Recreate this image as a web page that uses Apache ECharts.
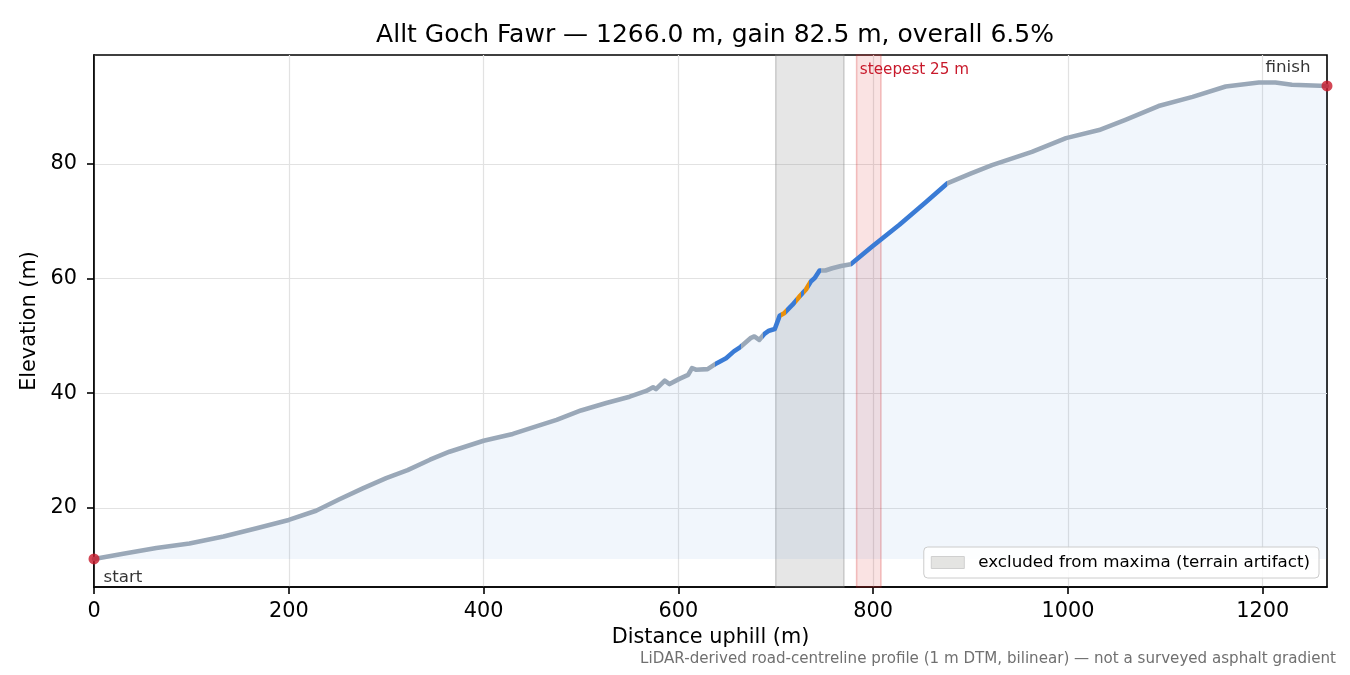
<!DOCTYPE html>
<html>
<head>
<meta charset="utf-8">
<script src="https://cdn.jsdelivr.net/npm/echarts@6/dist/echarts.min.js"></script>
<style>html,body{margin:0;padding:0;background:#fff;}#c{width:1350px;height:675px;}</style>
</head>
<body>
<div id="c"></div>
<script>
// ---- data ----
const distance = [0, 30, 64, 98, 133, 167, 200, 228, 252, 276, 300, 322, 345, 365, 400, 430, 450, 475, 500, 526, 550, 567, 574, 577, 586, 591, 601, 610, 614, 618, 630, 639, 649, 657, 664, 674, 678, 683, 688, 693, 699, 704, 709, 717, 724, 731, 736, 740, 745, 751, 758, 767, 777, 799, 827, 854, 876, 900, 922, 963, 998, 1032, 1059, 1093, 1128, 1162, 1196, 1213, 1230, 1266];
const elevation = [11.1, 12.0, 13.0, 13.8, 15.0, 16.45, 17.9, 19.5, 21.5, 23.4, 25.2, 26.6, 28.4, 29.8, 31.7, 32.9, 34.0, 35.35, 37.0, 38.3, 39.4, 40.4, 41.05, 40.7, 42.2, 41.6, 42.5, 43.2, 44.4, 44.1, 44.2, 45.2, 46.1, 47.3, 48.1, 49.6, 49.9, 49.3, 50.3, 50.9, 51.2, 53.5, 54.0, 55.4, 56.8, 58.1, 59.5, 60.1, 61.4, 61.4, 61.8, 62.2, 62.5, 65.6, 69.4, 73.3, 76.6, 78.3, 79.8, 82.1, 84.5, 85.9, 87.7, 90.1, 91.7, 93.5, 94.2, 94.2, 93.8, 93.6];
const xTicks = [0, 200, 400, 600, 800, 1000, 1200];
const yTicks = [20, 40, 60, 80];
const excludedBand = [700, 770];
const steepestBand = [783, 808];
const steepRanges = [[638, 664], [687, 746], [777, 876]];      // blue
const steepestRanges = [[705, 711], [721, 726], [729, 734]];   // orange
const titleText = 'Allt Goch Fawr \u2014 1266.0 m, gain 82.5 m, overall 6.5%';
const legendName = 'excluded from maxima (terrain artifact)';
const footnote = 'LiDAR-derived road-centreline profile (1 m DTM, bilinear) \u2014 not a surveyed asphalt gradient';

// ---- styles ----
const FONT = 'DejaVu Sans';
const GREY = '#9aa8b8', BLUE = '#3a7bd5', ORANGE = '#e8900c', RED = '#c8192b';

const profile = distance.map((d, i) => [d, elevation[i]]);
const baseElev = Math.min(...elevation);
const n = distance.length - 1;

const pieces = [];
steepRanges.forEach(r => {
  let cur = r[0];
  steepestRanges.filter(o => o[0] >= r[0] && o[1] <= r[1]).forEach(o => {
    if (o[0] > cur) pieces.push({gte: cur, lt: o[0], color: BLUE});
    pieces.push({gte: o[0], lt: o[1], color: ORANGE});
    cur = o[1];
  });
  if (cur < r[1]) pieces.push({gte: cur, lt: r[1], color: BLUE});
});

const chart = echarts.init(document.getElementById('c'), null, {renderer: 'canvas'});
chart.setOption({
  animation: false,
  backgroundColor: '#fff',
  textStyle: {fontFamily: FONT},
  title: {
    text: titleText, left: 710, top: 18, textAlign: 'center',
    textStyle: {fontFamily: FONT, fontSize: 25, fontWeight: 'normal', color: '#000'}
  },
  grid: {left: 94, right: 23, top: 55, bottom: 88, show: true, borderColor: '#000', borderWidth: 1.6, backgroundColor: 'rgba(0,0,0,0)'},
  legend: {
    data: [{name: legendName, icon: 'rect', itemStyle: {color: '#e4e4e2', borderColor: '#cfcfcf', borderWidth: 1}}],
    right: 31, bottom: 97, itemWidth: 33, itemHeight: 12,
    padding: [7, 9, 7, 7], backgroundColor: 'rgba(255,255,255,0.85)', borderColor: '#cccccc', borderWidth: 1, borderRadius: 4,
    textStyle: {fontFamily: FONT, fontSize: 16.7, color: '#000', padding: [0, 0, 0, 9]},
    selectedMode: false
  },
  visualMap: {
    type: 'piecewise', show: false, dimension: 0, seriesIndex: 1,
    pieces: pieces, outOfRange: {color: GREY}
  },
  xAxis: {
    type: 'value', min: 0, max: 1266, interval: 200,
    name: 'Distance uphill (m)', nameLocation: 'middle', nameGap: 38,
    nameTextStyle: {fontFamily: FONT, fontSize: 20.8, color: '#000'},
    axisLine: {show: true, lineStyle: {color: '#000', width: 1.6}},
    axisTick: {show: true, inside: false, length: 7, lineStyle: {color: '#000', width: 1.6}, customValues: xTicks},
    axisLabel: {customValues: xTicks, formatter: v => String(v), margin: 14, fontFamily: FONT, fontSize: 20.8, color: '#000'},
    splitLine: {show: true, lineStyle: {color: '#e2e2e2', width: 1.2}}
  },
  yAxis: {
    type: 'value', min: 6.2, max: 99.0,
    name: 'Elevation (m)', nameLocation: 'middle', nameGap: 51,
    nameTextStyle: {fontFamily: FONT, fontSize: 20.8, color: '#000'},
    axisLine: {show: true, lineStyle: {color: '#000', width: 1.6}},
    axisTick: {show: true, inside: false, length: 7, lineStyle: {color: '#000', width: 1.6}, customValues: yTicks},
    axisLabel: {customValues: yTicks, formatter: v => String(v), margin: 17, fontFamily: FONT, fontSize: 20.8, color: '#000'},
    splitLine: {show: true, lineStyle: {color: '#e2e2e2', width: 1.2}}
  },
  series: [
    {
      name: 'fill', type: 'line', data: profile, showSymbol: false, silent: true, z: 1,
      lineStyle: {width: 0, opacity: 0},
      areaStyle: {color: 'rgba(58,123,213,0.1)', origin: baseElev}
    },
    {
      name: 'profile', type: 'line', data: profile, showSymbol: false, z: 4,
      lineStyle: {width: 4.6, cap: 'round', join: 'round'}
    },
    {
      name: legendName, type: 'line', data: [], z: 2,
      itemStyle: {color: '#e4e4e2'},
      markArea: {
        silent: true,
        data: [
          [{xAxis: excludedBand[0], itemStyle: {color: 'rgba(128,128,128,0.2)', borderColor: 'rgba(128,128,128,0.35)', borderWidth: 1.5}}, {xAxis: excludedBand[1]}],
          [{xAxis: steepestBand[0], itemStyle: {color: 'rgba(214,39,40,0.13)', borderColor: 'rgba(214,39,40,0.28)', borderWidth: 1.5},
            label: {show: true, formatter: 'steepest 25 m', position: 'insideTopLeft', distance: 4, offset: [0, 4], color: RED, fontFamily: FONT, fontSize: 15.2}},
           {xAxis: steepestBand[1]}]
        ],
        label: {show: false}
      }
    },
    {
      name: 'ends', type: 'scatter', z: 5, clip: false, symbolSize: 11,
      itemStyle: {color: RED},
      data: [
        {value: [distance[0], elevation[0]], label: {show: true, formatter: 'start', position: 'right', distance: 4, offset: [0, 19], color: '#000', fontFamily: FONT, fontSize: 16.7}},
        {value: [distance[n], elevation[n]], label: {show: true, formatter: 'finish', position: 'left', distance: 5, offset: [-6, -18], color: '#000', fontFamily: FONT, fontSize: 16.7}}
      ]
    }
  ],
  graphic: [
    {type: 'text', right: 14, top: 652, style: {text: footnote, fontFamily: FONT, fontSize: 15.1, fill: '#707070'}}
  ]
});
</script>
</body>
</html>
